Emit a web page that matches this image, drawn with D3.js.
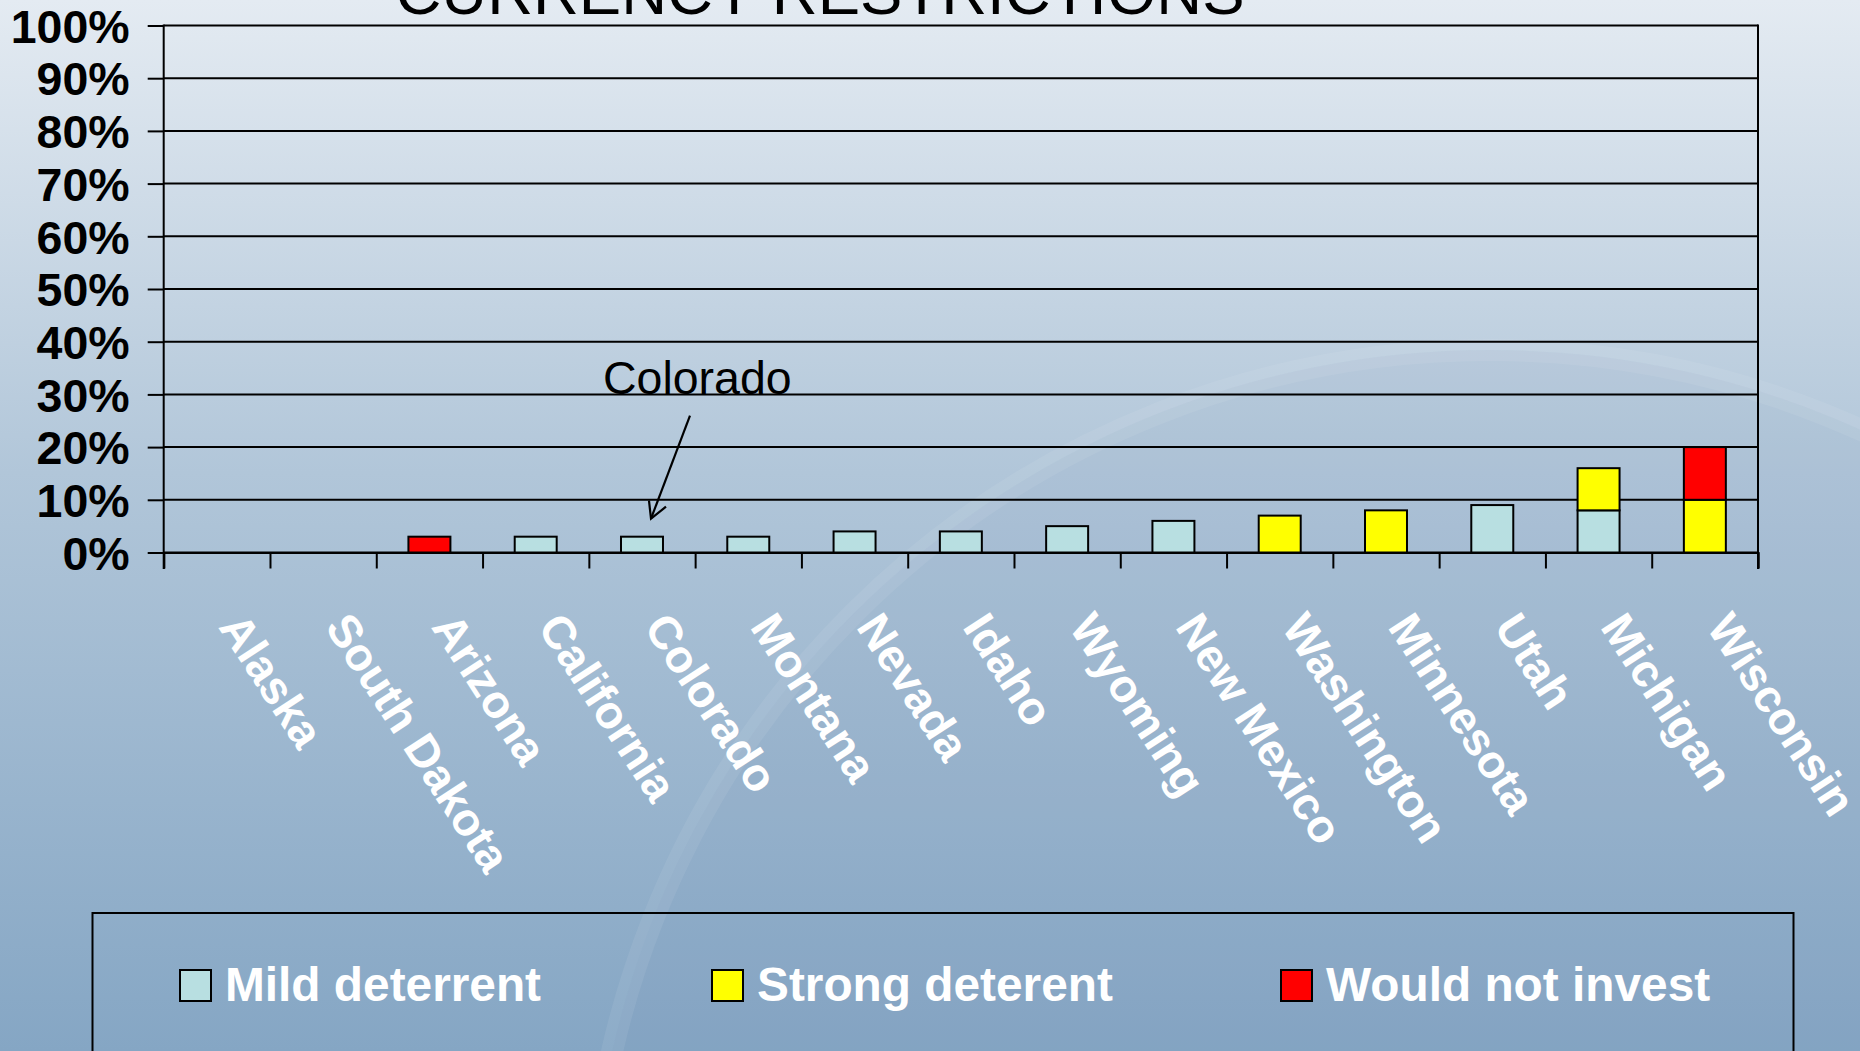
<!DOCTYPE html>
<html>
<head>
<meta charset="utf-8">
<script src="https://cdn.jsdelivr.net/npm/d3@7"></script>
<style>
  html, body { margin: 0; padding: 0; overflow: hidden; background: #e4ebf2; }
  svg { display: block; font-family: "Liberation Sans", Arial, sans-serif; }
</style>
</head>
<body>
<script>
const categories = ["Alaska","South Dakota","Arizona","California","Colorado","Montana","Nevada","Idaho","Wyoming","New Mexico","Washington","Minnesota","Utah","Michigan","Wisconsin"];
const mildDeterrent   = [0,0,0,3,3,3,4,4,5,6,0,0,9,8,0];
const strongDeterent  = [0,0,0,0,0,0,0,0,0,0,7,8,0,8,10];
const wouldNotInvest  = [0,0,3,0,0,0,0,0,0,0,0,0,0,0,10];
const seriesNames = ["Mild deterrent","Strong deterent","Would not invest"];
const seriesColors = ["#b8dfe1","#ffff00","#ff0000"];
const yTickValues = [0,10,20,30,40,50,60,70,80,90,100];
const titleText = "CURRENCY RESTRICTIONS";
const annotationText = "Colorado";
const annotatedCategory = "Colorado";

(function draw() {
const W = 1860, H = 1051;
const svg = d3.select("body").append("svg").attr("width", W).attr("height", H);

// background
const defs = svg.append("defs");
const grad = defs.append("linearGradient").attr("id","bg").attr("x1",0).attr("y1",0).attr("x2",0).attr("y2",1);
grad.append("stop").attr("offset","0").attr("stop-color","#e4ebf2");
grad.append("stop").attr("offset","0.45").attr("stop-color","#b1c6d9");
grad.append("stop").attr("offset","1").attr("stop-color","#85a6c4");
svg.append("rect").attr("width",W).attr("height",H).attr("fill","url(#bg)");
// faint globe watermark
svg.append("circle").attr("cx",1490).attr("cy",1250).attr("r",900)
  .attr("fill","rgba(110,140,175,0.08)").attr("stroke","rgba(255,255,255,0.07)").attr("stroke-width",22);

// data table
const table = categories.map((c,i) => ({cat:c, "Mild deterrent":mildDeterrent[i], "Strong deterent":strongDeterent[i], "Would not invest":wouldNotInvest[i]}));
const stack = d3.stack().keys(seriesNames)(table);

const pLeft = 163.7, pRight = 1758, pTop = 25.5, pBottom = 552.5;
const x = d3.scaleBand().domain(categories).range([pLeft, pRight]).padding(0);
const y = d3.scaleLinear().domain([0,100]).range([pBottom, pTop]);
const barW = x.bandwidth() * 0.395;

// title (cut at top)
svg.append("text").attr("x", 820).attr("y", 14).attr("text-anchor","middle")
  .attr("font-size", 63.5).attr("fill","#000").text(titleText);

// gridlines
svg.append("g").selectAll("line").data(yTickValues).join("line")
  .attr("x1", pLeft).attr("x2", pRight).attr("y1", d => y(d)).attr("y2", d => y(d))
  .attr("stroke","#000").attr("stroke-width",2);

// y axis
const yAxis = svg.append("g").attr("transform",`translate(${pLeft},0)`)
  .call(d3.axisLeft(y).tickValues(yTickValues).tickSize(16).tickPadding(18).tickFormat(d => d + "%"));
yAxis.select(".domain").remove();
yAxis.selectAll(".tick line").attr("stroke","#000").attr("stroke-width",2);
yAxis.selectAll(".tick text").attr("font-size",46.5).attr("font-weight","bold").attr("fill","#000")
  .attr("font-family",'"Liberation Sans", Arial, sans-serif').attr("dy","0.36em");

// axis lines
svg.append("line").attr("x1",pLeft).attr("x2",pLeft).attr("y1",pTop-1).attr("y2",pBottom+16.5).attr("stroke","#000").attr("stroke-width",2);
svg.append("line").attr("x1",pRight).attr("x2",pRight).attr("y1",pTop-1).attr("y2",pBottom+16.5).attr("stroke","#000").attr("stroke-width",2);

// x axis ticks at category boundaries
const xi = d3.scaleLinear().domain([0, categories.length]).range([pLeft, pRight]);
const xAxis = svg.append("g").attr("transform",`translate(0,${pBottom})`)
  .call(d3.axisBottom(xi).tickValues(d3.range(0, categories.length+1)).tickSize(16).tickFormat(""));
xAxis.select(".domain").attr("stroke","#000").attr("stroke-width",2);
xAxis.selectAll(".tick line").attr("stroke","#000").attr("stroke-width",2);

// bars
svg.append("g").selectAll("g").data(stack).join("g")
  .attr("fill",(d,i) => seriesColors[i])
  .selectAll("rect").data(d => d.filter(s => s[1] > s[0])).join("rect")
  .attr("x", d => x(d.data.cat) + (x.bandwidth()-barW)/2)
  .attr("width", barW)
  .attr("y", d => y(d[1]))
  .attr("height", d => y(d[0]) - y(d[1]))
  .attr("stroke","#000").attr("stroke-width",2);

// x labels
svg.append("g").selectAll("text").data(categories).join("text")
  .attr("transform", d => `translate(${x(d) + x.bandwidth()/2 + 1},627) rotate(57)`)
  .attr("text-anchor","start").attr("font-size",46).attr("font-weight","bold").attr("fill","#fff")
  .text(d => d);

// annotation
const ci = categories.indexOf(annotatedCategory);
const tipX = x(annotatedCategory) + x.bandwidth()/2 + 9;
const tipY = y(mildDeterrent[ci] + strongDeterent[ci] + wouldNotInvest[ci]) - 18;
svg.append("text").attr("x", tipX - 48).attr("y", tipY - 125).attr("font-size",46.5).attr("fill","#000").text(annotationText);
const ann = svg.append("g").attr("stroke","#000").attr("stroke-width",2.2).attr("fill","none");
ann.append("line").attr("x1", tipX + 39).attr("y1", tipY - 103).attr("x2", tipX).attr("y2", tipY);
ann.append("polyline").attr("points", `${tipX-2},${tipY-18} ${tipX},${tipY} ${tipX+15},${tipY-12}`);

// legend
svg.append("rect").attr("x",92.5).attr("y",913).attr("width",1701).attr("height",200)
  .attr("fill","none").attr("stroke","#000").attr("stroke-width",2);
const legendX = [180, 712, 1281];
const lg = svg.append("g").selectAll("g").data(seriesNames).join("g")
  .attr("transform",(d,i) => `translate(${legendX[i]},970)`);
lg.append("rect").attr("width",31).attr("height",31).attr("fill",(d,i) => seriesColors[i])
  .attr("stroke","#000").attr("stroke-width",2);
lg.append("text").attr("x",45).attr("y",31).attr("font-size",47.8).attr("font-weight","bold")
  .attr("fill","#fff").text(d => d);
})();
</script>
</body>
</html>
